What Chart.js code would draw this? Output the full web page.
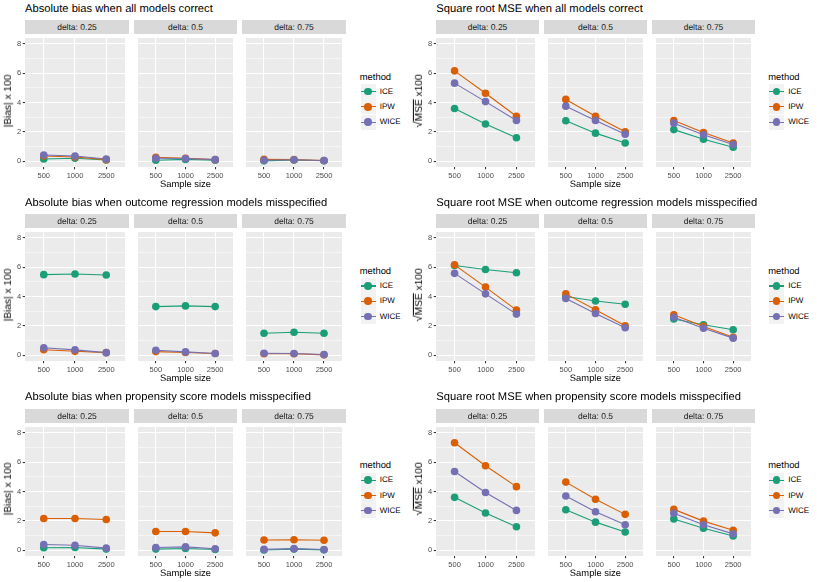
<!DOCTYPE html>
<html>
<head>
<meta charset="utf-8">
<script src="https://cdn.jsdelivr.net/npm/chart.js@4.4.1/dist/chart.umd.min.js"></script>
<style>
  body { margin: 0; background: #fff; }
  #fig { position: relative; width: 817px; height: 582px; overflow: hidden; font-family: "Liberation Sans", Arial, sans-serif; text-rendering: geometricPrecision; }
  .txt { position: absolute; white-space: nowrap; line-height: 1; }
  .strip { position: absolute; background: #D9D9D9; }
  .key { position: absolute; background: #F2F2F2; }
  .key .ln { position: absolute; left: 0; right: 0; height: 1.1px; }
  .key .dot { position: absolute; border-radius: 50%; }
  canvas { position: absolute; }
</style>
</head>
<body>
<div id="fig"></div>
<script>
// categories / labels
const sampleSizes = ['500', '1000', '2500'];
const deltaLabels = ['delta: 0.25', 'delta: 0.5', 'delta: 0.75'];
const methods = ['ICE', 'IPW', 'WICE'];
const methodColors = ['#1B9E77', '#D95F02', '#7570B3'];
const yMajor = [0, 2, 4, 6, 8];
const yMinor = [1, 3, 5, 7];

// values: one inner array per delta facet, values in sample size order
const biasAllICE  = [[0.15, 0.20, 0.08], [0.06, 0.12, 0.06], [0.02, 0.08, 0.03]];
const biasAllIPW  = [[0.35, 0.28, 0.10], [0.27, 0.20, 0.10], [0.12, 0.10, 0.04]];
const biasAllWICE = [[0.42, 0.35, 0.15], [0.20, 0.18, 0.10], [0.06, 0.09, 0.04]];

const rmseAllICE  = [[3.59, 2.53, 1.60], [2.75, 1.91, 1.24], [2.15, 1.49, 0.95]];
const rmseAllIPW  = [[6.16, 4.63, 3.06], [4.21, 3.06, 2.00], [2.77, 1.95, 1.24]];
const rmseAllWICE = [[5.32, 4.06, 2.77], [3.75, 2.77, 1.84], [2.59, 1.80, 1.13]];

const biasOrICE  = [[5.49, 5.53, 5.47], [3.31, 3.36, 3.31], [1.49, 1.56, 1.49]];
const biasOrIPW  = [[0.37, 0.26, 0.17], [0.24, 0.18, 0.11], [0.09, 0.09, 0.02]];
const biasOrWICE = [[0.50, 0.36, 0.17], [0.33, 0.22, 0.11], [0.13, 0.11, 0.04]];

const rmseOrICE  = [[6.11, 5.84, 5.62], [4.00, 3.69, 3.47], [2.47, 2.07, 1.73]];
const rmseOrIPW  = [[6.16, 4.64, 3.07], [4.18, 3.09, 2.00], [2.76, 1.96, 1.22]];
const rmseOrWICE = [[5.58, 4.18, 2.80], [3.87, 2.84, 1.87], [2.58, 1.84, 1.16]];

const biasPsICE  = [[0.16, 0.18, 0.07], [0.07, 0.11, 0.04], [0.01, 0.07, 0.02]];
const biasPsIPW  = [[2.16, 2.16, 2.09], [1.27, 1.27, 1.18], [0.69, 0.71, 0.67]];
const biasPsWICE = [[0.38, 0.33, 0.14], [0.18, 0.22, 0.09], [0.05, 0.10, 0.04]];

const rmsePsICE  = [[3.60, 2.53, 1.60], [2.76, 1.91, 1.24], [2.13, 1.49, 0.96]];
const rmsePsIPW  = [[7.33, 5.76, 4.33], [4.64, 3.47, 2.44], [2.78, 1.98, 1.36]];
const rmsePsWICE = [[5.36, 3.93, 2.71], [3.69, 2.62, 1.73], [2.51, 1.73, 1.11]];

const biasLab = '|Bias| x 100';
const rmseLab = '<span style="font-size:1.15em">\u221A</span><span style="text-decoration:overline">MSE</span> x100';

const panels = [
  { title: 'Absolute bias when all models correct', ylab: biasLab, series: [biasAllICE, biasAllIPW, biasAllWICE] },
  { title: 'Square root MSE when all models correct', ylab: rmseLab, series: [rmseAllICE, rmseAllIPW, rmseAllWICE] },
  { title: 'Absolute bias when outcome regression models misspecified', ylab: biasLab, series: [biasOrICE, biasOrIPW, biasOrWICE] },
  { title: 'Square root MSE when outcome regression models misspecified', ylab: rmseLab, series: [rmseOrICE, rmseOrIPW, rmseOrWICE] },
  { title: 'Absolute bias when propensity score models misspecified', ylab: biasLab, series: [biasPsICE, biasPsIPW, biasPsWICE] },
  { title: 'Square root MSE when propensity score models misspecified', ylab: rmseLab, series: [rmsePsICE, rmsePsIPW, rmsePsWICE] }
];

const FONT = '"Liberation Sans", Arial, sans-serif';
const fig = document.getElementById('fig');

// little helper: baseline-positioned text
function addText(html, x, baseline, size, color, align, extra) {
  const d = document.createElement('div');
  d.className = 'txt';
  d.innerHTML = html;
  d.style.fontSize = size + 'px';
  d.style.color = color;
  d.style.left = x + 'px';
  d.style.top = (baseline - 0.8465 * size) + 'px';
  if (align === 'center') d.style.transform = 'translateX(-50%)';
  if (align === 'right') d.style.transform = 'translateX(-100%)';
  if (extra) Object.assign(d.style, extra);
  fig.appendChild(d);
  return d;
}

const panelBg = {
  id: 'panelBg',
  beforeDraw(chart) {
    const a = chart.chartArea;
    const c = chart.ctx;
    c.save();
    c.fillStyle = '#EBEBEB';
    c.fillRect(a.left, a.top, a.right - a.left, a.bottom - a.top);
    c.restore();
  }
};

function makeFacet(canvas, series, f, showY) {
  const datasets = [];
  methods.forEach((m, mi) => {
    const pts = series[mi][f].map((v, i) => ({ x: i + 1, y: v }));
    // lines under everything, then points (WICE on top, like ggplot)
    datasets.push({
      label: m + ' line', data: pts, order: 6 - mi,
      borderColor: methodColors[mi], borderWidth: 1.1, pointRadius: 0,
      showLine: true, fill: false, tension: 0
    });
    datasets.push({
      label: m, data: pts, order: 3 - mi, showLine: false,
      pointRadius: 3.8, pointBackgroundColor: methodColors[mi], pointBorderWidth: 0
    });
  });

  new Chart(canvas, {
    type: 'line',
    data: { datasets: datasets },
    plugins: [panelBg],
    options: {
      responsive: false,
      animation: false,
      events: [],
      layout: { padding: 0 },
      plugins: { legend: { display: false }, tooltip: { enabled: false } },
      scales: {
        x: {
          type: 'linear', min: 0.4, max: 3.6,
          afterBuildTicks: s => { s.ticks = sampleSizes.map((_, i) => ({ value: i + 1 })); },
          afterFit: s => { s.height = 14; s.paddingLeft = 0; s.paddingRight = 0; },
          border: { display: false },
          grid: { color: '#FFFFFF', lineWidth: 1.07, tickLength: 2.3, tickColor: '#333333', tickWidth: 1.07 },
          ticks: {
            padding: 1.8, color: '#4D4D4D', font: { family: FONT, size: 7.5 },
            maxRotation: 0, autoSkip: false,
            callback: v => sampleSizes[Math.round(v) - 1]
          }
        },
        y: {
          type: 'linear', min: -0.4, max: 8.4,
          afterBuildTicks: s => {
            s.ticks = yMajor.concat(yMinor).sort((a, b) => a - b).map(v => ({ value: v }));
          },
          afterFit: s => { s.width = showY ? 22 : 0; s.paddingTop = 0; s.paddingBottom = 0; },
          border: { display: false },
          grid: {
            color: '#FFFFFF',
            lineWidth: ctx => (yMajor.includes(ctx.tick.value) ? 1.07 : 0.53),
            drawTicks: showY,
            tickLength: 2.3,
            tickWidth: 1.07,
            tickColor: ctx => (yMajor.includes(ctx.tick.value) ? '#333333' : 'rgba(0,0,0,0)')
          },
          ticks: {
            display: showY, padding: 1.6, color: '#4D4D4D', font: { family: FONT, size: 7.5 },
            autoSkip: false,
            callback: v => (yMajor.includes(v) ? String(v) : '')
          }
        }
      }
    }
  });
}

const colX = [0, 408.5];
const rowY = [0, 194.3, 388.6];
const panelStart = [25.0, 27.8];
const panelEnd = 346.0;
const gap = 4.7;
const stripTop = 20, panelTop = 34, panelBottom = 167;

panels.forEach((p, pi) => {
  const col = pi % 2, row = Math.floor(pi / 2);
  const ox = colX[col], oy = rowY[row];
  const start = panelStart[col];
  const w = (panelEnd - start - 2 * gap) / 3;

  addText(p.title, ox + start, oy + 13.3, 11.2, '#000');

  for (let f = 0; f < 3; f++) {
    const L = Math.round(ox + start + f * (w + gap));
    const R = Math.round(ox + start + f * (w + gap) + w);
    const yw = f === 0 ? 22 : 0;

    const s = document.createElement('div');
    s.className = 'strip';
    s.style.left = L + 'px';
    s.style.width = (R - L) + 'px';
    s.style.top = (oy + stripTop) + 'px';
    s.style.height = (panelTop - stripTop) + 'px';
    fig.appendChild(s);
    addText(deltaLabels[f], (L + R) / 2, oy + 30.1, 8.5, '#1A1A1A', 'center');

    const cv = document.createElement('canvas');
    const top = Math.round(oy + panelTop);
    const h = Math.round(oy + panelBottom) - top + 14;
    cv.width = R - L + yw;
    cv.height = h;
    cv.style.left = (L - yw) + 'px';
    cv.style.top = top + 'px';
    cv.style.width = (R - L + yw) + 'px';
    cv.style.height = h + 'px';
    fig.appendChild(cv);
    makeFacet(cv, p.series, f, f === 0);
  }

  // axis titles
  addText('Sample size', ox + (start + panelEnd) / 2, oy + 187, 9.4, '#000', 'center');
  const yl = addText(p.ylab, ox + (col === 0 ? 8.5 : 10.5), oy + 100.5, 10.2, '#000', null,
    { top: (oy + 100.5) + 'px' });
  yl.style.transform = 'translate(-50%, -50%) rotate(-90deg)';

  // legend
  addText('method', ox + 359.8, oy + 79.5, 9.4, '#000');
  methods.forEach((m, mi) => {
    const kc = oy + 91.7 + mi * 15.2;
    const k = document.createElement('div');
    k.className = 'key';
    k.style.left = (ox + 360.5) + 'px';
    k.style.top = (kc - 7.6) + 'px';
    k.style.width = '15.2px';
    k.style.height = '15.2px';
    k.innerHTML = '<div class="ln" style="top:7.05px;background:' + methodColors[mi] + '"></div>' +
      '<div class="dot" style="left:3.8px;top:3.8px;width:7.6px;height:7.6px;background:' + methodColors[mi] + '"></div>';
    fig.appendChild(k);
    addText(m, ox + 379.7, kc + 2.9, 8, '#000');
  });
});
</script>
</body>
</html>
